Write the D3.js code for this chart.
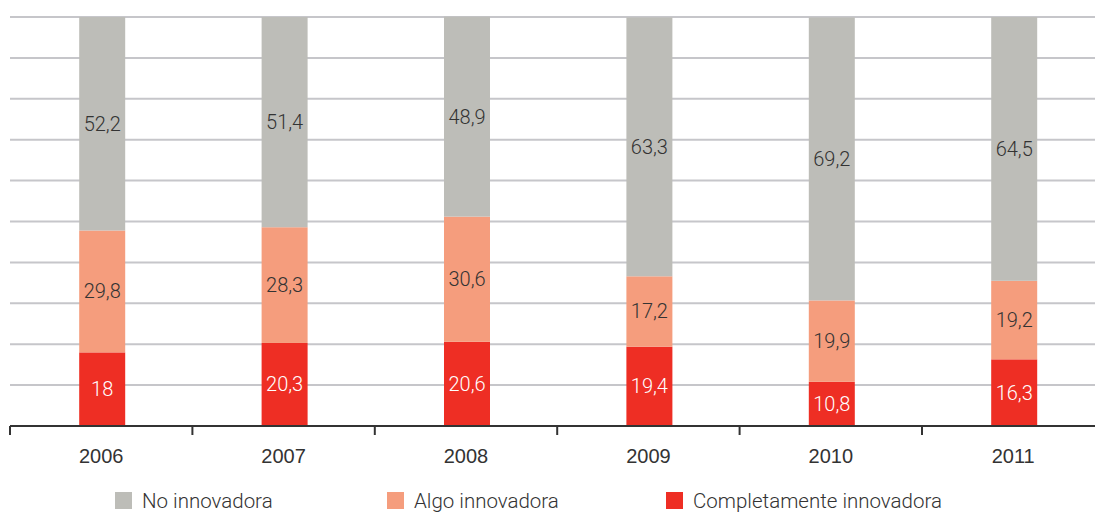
<!DOCTYPE html>
<html>
<head>
<meta charset="utf-8">
<script src="https://cdn.jsdelivr.net/npm/d3@7"></script>
<style>
  body { margin: 0; background: #fff; }
  svg { display: block; font-family: Roboto, "Liberation Sans", sans-serif; font-weight: 300; }
</style>
</head>
<body>
<div id="chart"></div>
<script>
// data
const years = ["2006", "2007", "2008", "2009", "2010", "2011"];
const completamente = [18, 20.3, 20.6, 19.4, 10.8, 16.3];
const algo = [29.8, 28.3, 30.6, 17.2, 19.9, 19.2];
const noInnov = [52.2, 51.4, 48.9, 63.3, 69.2, 64.5];
const seriesNames = ["Completamente innovadora", "Algo innovadora", "No innovadora"];
const legendOrder = ["No innovadora", "Algo innovadora", "Completamente innovadora"];
const gridTicks = [10, 20, 30, 40, 50, 60, 70, 80, 90, 100];

const width = 1095;
const height = 513;
const margin = { left: 10, top: 17, bottom: 87 };

const color = d3.scaleOrdinal(seriesNames, ["#ee2e24", "#f59d7d", "#bdbdb8"]);
const textColor = d3.scaleOrdinal(seriesNames, ["#ffffff", "#333333", "#333333"]);

const rows = years.map((y, i) => ({
  year: y,
  "Completamente innovadora": completamente[i],
  "Algo innovadora": algo[i],
  "No innovadora": noInnov[i]
}));

const stacked = d3.stack().keys(seriesNames)(rows);

const x = d3.scaleBand()
  .domain(years)
  .range([margin.left, margin.left + 182.4 * years.length])
  .paddingInner(0);

const y = d3.scaleLinear()
  .domain([0, 100])
  .range([height - margin.bottom, margin.top]);

const barWidth = 46;

const svg = d3.select("#chart").append("svg")
  .attr("width", width)
  .attr("height", height);

// gridlines
svg.append("g")
  .selectAll("line")
  .data(gridTicks)
  .join("line")
  .attr("x1", margin.left)
  .attr("x2", width)
  .attr("y1", d => y(d))
  .attr("y2", d => y(d))
  .attr("stroke", "#c6c6ca")
  .attr("stroke-width", 2);

// bars
const layer = svg.append("g")
  .selectAll("g")
  .data(stacked)
  .join("g")
  .attr("fill", d => color(d.key));

layer.selectAll("rect")
  .data(d => d)
  .join("rect")
  .attr("x", d => x(d.data.year) + x.bandwidth() / 2 - barWidth / 2 + 1)
  .attr("width", barWidth)
  .attr("y", d => y(d[1]))
  .attr("height", d => y(d[0]) - y(d[1]));

// value labels
svg.append("g")
  .selectAll("g")
  .data(stacked)
  .join("g")
  .attr("fill", d => textColor(d.key))
  .each(function (s) {
    d3.select(this).selectAll("text")
      .data(s)
      .join("text")
      .attr("x", d => x(d.data.year) + x.bandwidth() / 2 + 1)
      .attr("y", d => (y(d[0]) + y(d[1])) / 2)
      .attr("dy", "0.35em")
      .attr("text-anchor", "middle")
      .attr("font-size", 20)
      .text(d => String(d.data[s.key]).replace(".", ","));
  });

// x axis
const xAxis = d3.axisBottom(x)
  .tickSize(9)
  .tickSizeOuter(0)
  .tickPadding(14);

const axisG = svg.append("g")
  .attr("transform", `translate(0,${y(0)})`)
  .call(xAxis);

axisG.select(".domain")
  .attr("d", `M${margin.left},0H${width}`)
  .attr("stroke", "#333")
  .attr("stroke-width", 2);

axisG.selectAll(".tick line")
  .attr("transform", `translate(${-x.bandwidth() / 2},0)`)
  .attr("stroke", "#333")
  .attr("stroke-width", 2);

axisG.selectAll(".tick text")
  .attr("font-size", 20)
  .attr("fill", "#333");

// legend
const legendX = [115, 387, 666];
const legend = svg.append("g")
  .selectAll("g")
  .data(legendOrder)
  .join("g")
  .attr("transform", (d, i) => `translate(${legendX[i]},492)`);

legend.append("rect")
  .attr("width", 17)
  .attr("height", 17)
  .attr("fill", d => color(d));

legend.append("text")
  .attr("x", 27)
  .attr("y", 9)
  .attr("dy", "0.35em")
  .attr("font-size", 20.5)
  .attr("fill", "#333")
  .text(d => d);
</script>
</body>
</html>
